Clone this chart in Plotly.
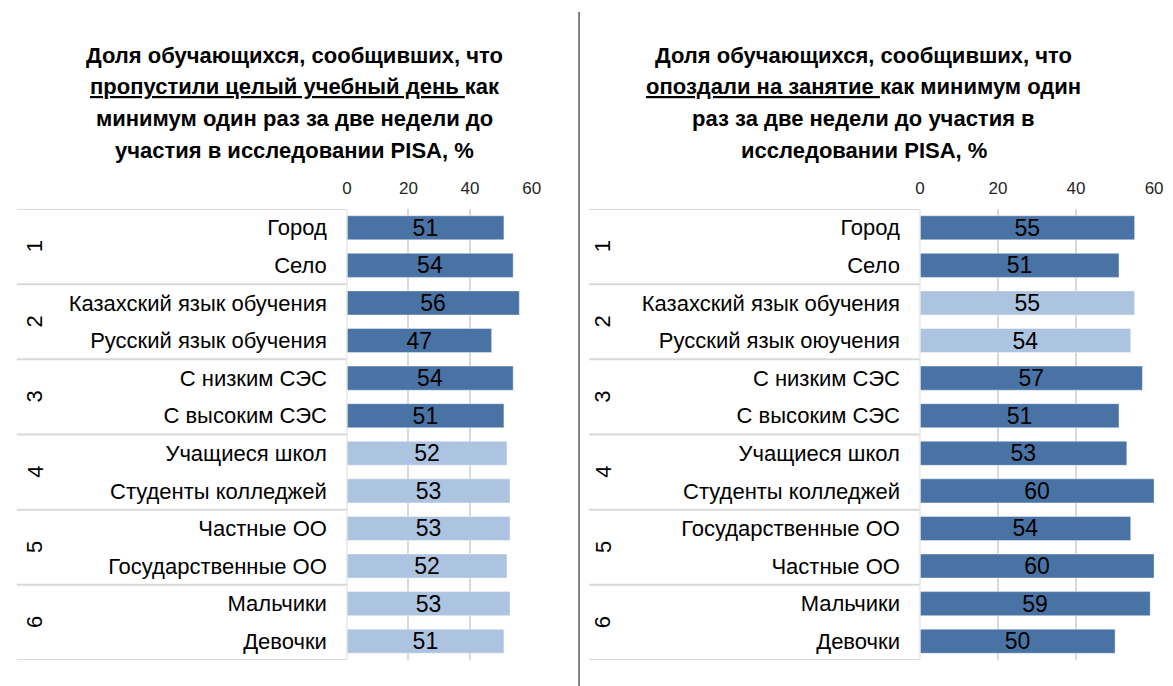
import plotly.graph_objects as go

# ---------------- data ----------------
categories_left = ["Город", "Село", "Казахский язык обучения", "Русский язык обучения",
                   "С низким СЭС", "С высоким СЭС", "Учащиеся школ", "Студенты колледжей",
                   "Частные ОО", "Государственные ОО", "Мальчики", "Девочки"]
values_left = [51, 54, 56, 47, 54, 51, 52, 53, 53, 52, 53, 51]
shade_left = ["dark"] * 6 + ["light"] * 6

categories_right = ["Город", "Село", "Казахский язык обучения", "Русский язык оюучения",
                    "С низким СЭС", "С высоким СЭС", "Учащиеся школ", "Студенты колледжей",
                    "Государственные ОО", "Частные ОО", "Мальчики", "Девочки"]
values_right = [55, 51, 55, 54, 57, 51, 53, 60, 54, 60, 59, 50]
shade_right = ["dark", "dark", "light", "light"] + ["dark"] * 8

group_labels = ["1", "2", "3", "4", "5", "6"]
x_ticks = [0, 20, 40, 60]

title_left = ["Доля обучающихся, сообщивших, что",
              "<u>пропустили целый учебный день </u>как",
              "минимум один раз за две недели до",
              "участия в исследовании PISA, %"]
title_right = ["Доля обучающихся, сообщивших, что",
               "<u>опоздали на занятие </u>как минимум один",
               "раз за две недели до участия в",
               "исследовании PISA, %"]

# ---------------- style ----------------
W, H = 1173, 686
DARK = "#4a73a5"
LIGHT = "#adc4e0"
COLORS = {"dark": DARK, "light": LIGHT}
FONT = "Liberation Sans, Arial, sans-serif"
GRID = "#d9d9d9"

def px(x):
    return x / W

def py(y):
    return 1 - y / H

y_dom = [py(660), py(209)]
left_dom = [px(346), px(533)]
right_dom = [px(926), px(1163)]

fig = go.Figure()

for cats, vals, shades, xa, ya in [
    (categories_left, values_left, shade_left, "x", "y"),
    (categories_right, values_right, shade_right, "x2", "y2"),
]:
    fig.add_trace(go.Bar(
        x=vals, y=cats, orientation="h", xaxis=xa, yaxis=ya,
        marker=dict(color=[COLORS[s] for s in shades],
                    line=dict(color="rgba(255,255,255,0.4)", width=1)),
        text=[str(v) for v in vals], textposition="inside",
        insidetextanchor="middle", textangle=0, constraintext="none",
        textfont=dict(family=FONT, size=23, color="#000000"),
        showlegend=False, hoverinfo="x+y", cliponaxis=False,
    ))

common_x = dict(range=[0, 60], tickvals=x_ticks, side="top", showgrid=True,
                gridcolor=GRID, gridwidth=1.5, zeroline=False, showline=False,
                ticks="", ticklabelstandoff=11,
                tickfont=dict(family=FONT, size=17, color="#262626"), fixedrange=True)
common_y = dict(range=[11.5, -0.5], type="category", showgrid=False, zeroline=False,
                showline=False, ticks="", ticklabelstandoff=19,
                tickfont=dict(family=FONT, size=22, color="#000000"), fixedrange=True)

fig.update_layout(
    width=W, height=H,
    margin=dict(l=0, r=0, t=0, b=0),
    paper_bgcolor="white", plot_bgcolor="white",
    bargap=0.36,
    xaxis=dict(domain=left_dom, anchor="y", **common_x),
    yaxis=dict(domain=y_dom, anchor="x", **common_y),
    xaxis2=dict(domain=right_dom, anchor="y2", **common_x),
    yaxis2=dict(domain=y_dom, anchor="x2", **common_y),
)

shapes = []
annotations = []
# group separators and group numbers
for yref, x0, x1, gx in [("y", 12, 346, 30), ("y2", 591, 926, 605)]:
    for k in range(len(group_labels) + 1):
        yb = -0.5 + 2 * k
        shapes.append(dict(type="line", xref="paper", yref=yref,
                           x0=px(x0), x1=px(x1), y0=yb, y1=yb,
                           line=dict(color=GRID, width=2)))
    shapes.append(dict(type="line", xref="paper", yref=yref,
                       x0=px(x1), x1=px(x1), y0=-0.5, y1=11.5,
                       line=dict(color="#e8e8e8", width=1.5)))
    for i, g in enumerate(group_labels):
        annotations.append(dict(text=g, xref="paper", yref=yref, x=px(gx), y=2 * i + 0.5,
                                showarrow=False, textangle=-90, xanchor="center", yanchor="middle",
                                font=dict(family=FONT, size=22, color="#000000")))

# divider
shapes.append(dict(type="line", xref="paper", yref="paper", x0=px(581), x1=px(581),
                   y0=0, y1=py(12), line=dict(color="#595959", width=1.5)))

# titles
for lines, cx in [(title_left, 293), (title_right, 869)]:
    for i, line in enumerate(lines):
        annotations.append(dict(text="<b>" + line + "</b>", xref="paper", yref="paper",
                                x=px(cx), y=py(55 + 31.7 * i), showarrow=False,
                                xanchor="center", yanchor="middle",
                                font=dict(family=FONT, size=22, color="#000000")))

fig.update_layout(shapes=shapes, annotations=annotations)
fig.write_html(
    "out.html",
    config={"displayModeBar": False, "responsive": False},
    post_script=("document.documentElement.style.margin='0';"
                 "document.documentElement.style.overflow='hidden';"
                 "document.body.style.margin='0';"
                 "document.body.style.overflow='hidden';"),
)
